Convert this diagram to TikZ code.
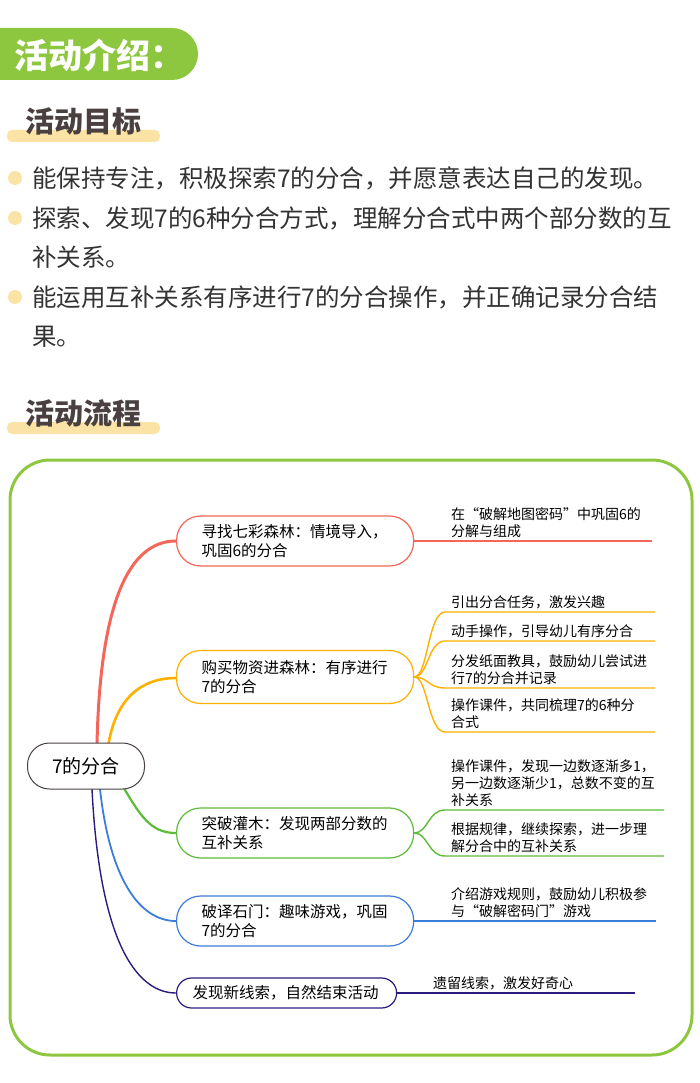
\documentclass[tikz,border=0pt]{standalone}
\usepackage{fontspec}
\setmainfont{Noto Sans CJK SC}
\usetikzlibrary{positioning}
\definecolor{grn}{HTML}{8DC63F}
\definecolor{hl}{HTML}{FBE3A6}
\definecolor{ink}{HTML}{4A4040}
\definecolor{cA}{HTML}{F4665A}
\definecolor{cB}{HTML}{FFB000}
\definecolor{cC}{HTML}{5DBB3A}
\definecolor{cD}{HTML}{3C7DD9}
\definecolor{cE}{HTML}{2A1C7C}

\begin{document}
\begin{tikzpicture}[x=1pt,y=-1pt]
\tikzstyle{every node}=[inner sep=0pt]
\tikzstyle{title}=[anchor=west, font=\fontsize{29}{29}\selectfont\bfseries, text=ink]
\tikzstyle{body}=[anchor=west, font=\fontsize{24.5}{24.5}\selectfont, text=black!80]
\tikzstyle{dot}=[circle, fill=hl, minimum size=14pt]
\tikzstyle{branch}=[draw, line width=1.2pt, rounded corners=24pt, fill=white, align=left,
  text width=187pt, inner xsep=25pt, font=\fontsize{15.5}{19}\selectfont, anchor=west]
\tikzstyle{leaf}=[anchor=south west, align=left, text width=240pt, font=\fontsize{14}{17}\selectfont, inner ysep=3pt]
\tikzstyle{limb}=[line width=1.4pt]
\useasboundingbox (0,0) rectangle (700,1083);

% header
\fill[grn, rounded corners=26pt] (-40,28) rectangle (198,80);
\node[anchor=west, text=white, font=\fontsize{34}{34}\selectfont\bfseries] (intro) at (14,55) {活动介绍：};

\fill[hl, rounded corners=5pt] (7,130) rectangle (160,142);
\node[title] (goal) at (25,121) {活动目标};
\foreach \y in {178,218,297} \node[dot] at (15,\y) {};
\node[body] (g1) at (32,178) {能保持专注，积极探索7的分合，并愿意表达自己的发现。};
\node[body] (g2) at (32,218) {探索、发现7的6种分合方式，理解分合式中两个部分数的互};
\node[body] (g3) at (32,257) {补关系。};
\node[body] (g4) at (32,297) {能运用互补关系有序进行7的分合操作，并正确记录分合结};
\node[body] (g5) at (32,337) {果。};

\fill[hl, rounded corners=5pt] (7,422) rectangle (160,434);
\node[title] (flow) at (25,413) {活动流程};

% frame
\draw[grn, line width=3pt, rounded corners=40pt] (10,460) rectangle (692,1055);

% main limbs
\draw[cA, limb, line width=3pt] (97,745) .. controls (100,600) and (130,541) .. (176,541);
\draw[cB, limb, line width=2.6pt] (108,747) .. controls (115,700) and (140,678) .. (176,678);
\draw[cC, limb, line width=2.2pt] (122,785) .. controls (140,815) and (150,833) .. (176,833);
\draw[cD, limb, line width=1.8pt] (100,789) .. controls (110,880) and (140,921) .. (176,921);
\draw[cE, limb] (92,789) .. controls (100,950) and (140,993) .. (176,993);

\node[draw=ink, line width=1pt, rounded corners=22pt, minimum width=117pt, minimum height=46pt,
  fill=white, font=\fontsize{19}{19}\selectfont] (root) at (86,766) {7的分合};

\node[branch, draw=cA, minimum height=50pt] (b1) at (176,541) {寻找七彩森林：情境导入，\\巩固6的分合};
\node[branch, draw=cB, minimum height=53pt] (b2) at (176,677) {购买物资进森林：有序进行\\7的分合};
\node[branch, draw=cC, minimum height=50pt] (b3) at (176,833) {突破灌木：发现两部分数的\\互补关系};
\node[branch, draw=cD, minimum height=50pt] (b4) at (176,921) {破译石门：趣味游戏，巩固\\7的分合};
\node[branch, draw=cE, minimum height=30pt, rounded corners=15pt, text width=188pt, inner xsep=16pt] (b5) at (176,993) {发现新线索，自然结束活动};

% leaves
\coordinate (l1) at (451,541);
\draw[cA, limb] (b1.east) -- (652,541);
\node[leaf] (t1) at (l1) {在“破解地图密码”中巩固6的\\分解与组成};

\foreach \y/\txt [count=\i] in {612/{引出分合任务，激发兴趣},641/{动手操作，引导幼儿有序分合},
    688/{分发纸面教具，鼓励幼儿尝试进\\行7的分合并记录},732/{操作课件，共同梳理7的6种分\\合式}} {
  \coordinate (m\i) at (451,\y);
  \draw[cB, limb] (b2.east) .. controls (428,677) and (428,\y) .. (445,\y) -- (655,\y);
  \node[leaf] at (m\i) {\txt};
}
\foreach \y/\txt [count=\i] in {810/{操作课件，发现一边数逐渐多1，\\另一边数逐渐少1，总数不变的互\\补关系},856/{根据规律，继续探索，进一步理\\解分合中的互补关系}} {
  \coordinate (n\i) at (451,\y);
  \draw[cC, limb] (b3.east) .. controls (428,833) and (428,\y) .. (445,\y) -- (664,\y);
  \node[leaf] at (n\i) {\txt};
}
\coordinate (p1) at (451,921);
\draw[cD, limb] (b4.east) -- (656,921);
\node[leaf] (t4) at (p1) {介绍游戏规则，鼓励幼儿积极参\\与“破解密码门”游戏};
\coordinate (q1) at (433,993);
\draw[cE, limb] (b5.east) -- (635,993);
\node[leaf] (t5) at (q1) {遗留线索，激发好奇心};
\end{tikzpicture}
\end{document}
